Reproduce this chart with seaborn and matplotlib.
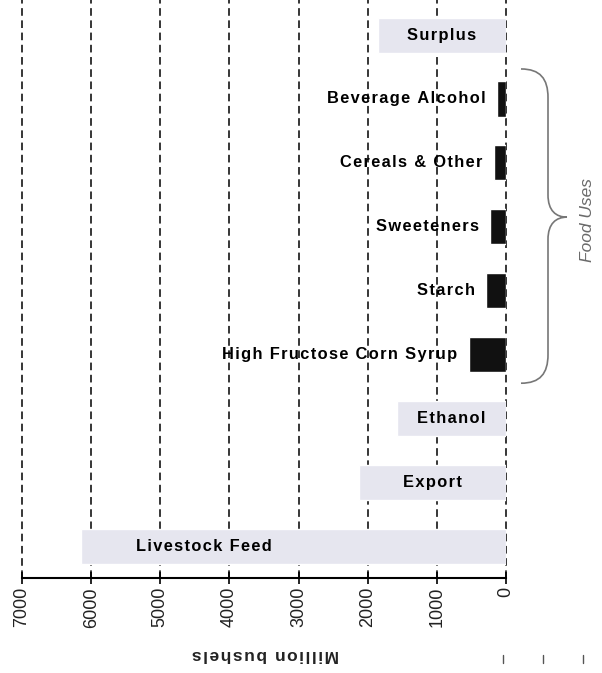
import matplotlib
matplotlib.use("Agg")
import matplotlib.pyplot as plt
import seaborn as sns
import pandas as pd
from matplotlib.path import Path
from matplotlib.patches import PathPatch
from matplotlib.lines import Line2D
from matplotlib.transforms import blended_transform_factory

categories = ["Surplus", "Beverage Alcohol", "Cereals & Other", "Sweeteners", "Starch",
              "High Fructose Corn Syrup", "Ethanol", "Export", "Livestock Feed"]
values = [1850, 130, 180, 230, 290, 540, 1580, 2130, 6150]
groups = ["Other", "Food", "Food", "Food", "Food", "Food", "Other", "Other", "Other"]
xticks = [7000, 6000, 5000, 4000, 3000, 2000, 1000, 0]
xlabel = "Million bushels"
brace_label = "Food Uses"

sns.set_theme(style="white")
plt.rcParams['font.family'] = ['Liberation Sans', 'DejaVu Sans']

HS = "\u200a"


def spaced(s):
    return HS.join(s)


W, H = 602, 673
fig = plt.figure(figsize=(W / 100, H / 100), dpi=100)
ax = fig.add_axes([22 / W, 1 - 578 / H, (506 - 22) / W, 578 / H])

df = pd.DataFrame(dict(category=categories, value=values, group=groups))
palette = {"Other": "#e6e6ef", "Food": "#111111"}
sns.barplot(data=df, x="value", y="category", hue="group", palette=palette,
            dodge=False, width=0.55, ax=ax, legend=False, saturation=1, zorder=3)

ax.set_xlim(7000, 0)
ax.set_ylim(8.5, -0.55)

for t in xticks:
    ax.axvline(t, color="black", ls=(0, (5, 3)), lw=1.1, zorder=2, clip_on=False)

for s in ["left", "top", "right"]:
    ax.spines[s].set_visible(False)
ax.spines["bottom"].set_color("black")
ax.spines["bottom"].set_linewidth(1.5)
ax.spines["bottom"].set_zorder(5)
ax.set_yticks([])
ax.set_ylabel("")
ax.set_xlabel("")
ax.set_xticks(xticks)
ax.set_xticklabels([str(t) for t in xticks])
ax.tick_params(axis="x", direction="inout", length=9, width=1.2, color="black",
               labelsize=13, labelrotation=90, pad=2, bottom=True, labelcolor="#222222")

for i, (cat, val, g) in enumerate(zip(categories, values, groups)):
    if g == "Food":
        ax.annotate(spaced(cat), xy=(val, i), xytext=(-8, 0), textcoords="offset points",
                    ha="right", va="center", fontsize=11.8, fontweight="bold",
                    color="black", zorder=1)
    else:
        xpos = val * 0.71 if cat == "Livestock Feed" else val / 2
        ax.text(xpos, i, spaced(cat), ha="center", va="center", fontsize=11.8,
                fontweight="bold", color="black", zorder=4)

# brace: x in figure pixels, y in category (data) units
first_food = groups.index("Food")
last_food = len(groups) - 1 - groups[::-1].index("Food")
top = first_food - 0.47
bot = last_food + 0.45
mid = (first_food + last_food) / 2 - 0.15
xl, xv, xt = 521, 548, 567
pts = [(xl, top), (xv - 8, top), (xv, top + 0.15), (xv, top + 0.45),
       (xv, mid - 0.35), (xv, mid - 0.1), (xv + 8, mid), (xt, mid),
       (xv + 8, mid), (xv, mid + 0.1), (xv, mid + 0.35),
       (xv, bot - 0.45), (xv, bot - 0.15), (xv - 8, bot), (xl, bot)]
codes = [Path.MOVETO, Path.CURVE4, Path.CURVE4, Path.CURVE4,
         Path.LINETO, Path.CURVE4, Path.CURVE4, Path.CURVE4,
         Path.CURVE4, Path.CURVE4, Path.CURVE4,
         Path.LINETO, Path.CURVE4, Path.CURVE4, Path.CURVE4]
trans = blended_transform_factory(fig.transFigure, ax.transData)
verts = [(x / W, y) for x, y in pts]
brace = PathPatch(Path(verts, codes), transform=trans, fill=False,
                  edgecolor="#777777", lw=1.2, clip_on=False)
ax.add_patch(brace)
fig.text(588 / W, 1 - 220 / H, brace_label, rotation=90, style="italic",
         color="#6a6a6a", fontsize=12.5, ha="center", va="center")

fig.text(265 / W, 1 - 654 / H, spaced(xlabel), rotation=180, fontsize=12.5,
         fontweight="bold", ha="center", va="center", color="#222222")

for x in [503, 543, 583]:
    fig.lines.append(Line2D([x / W, x / W], [1 - 655 / H, 1 - 663 / H],
                            transform=fig.transFigure, color="#555555", lw=1))

fig.savefig("out.png", dpi=100)
